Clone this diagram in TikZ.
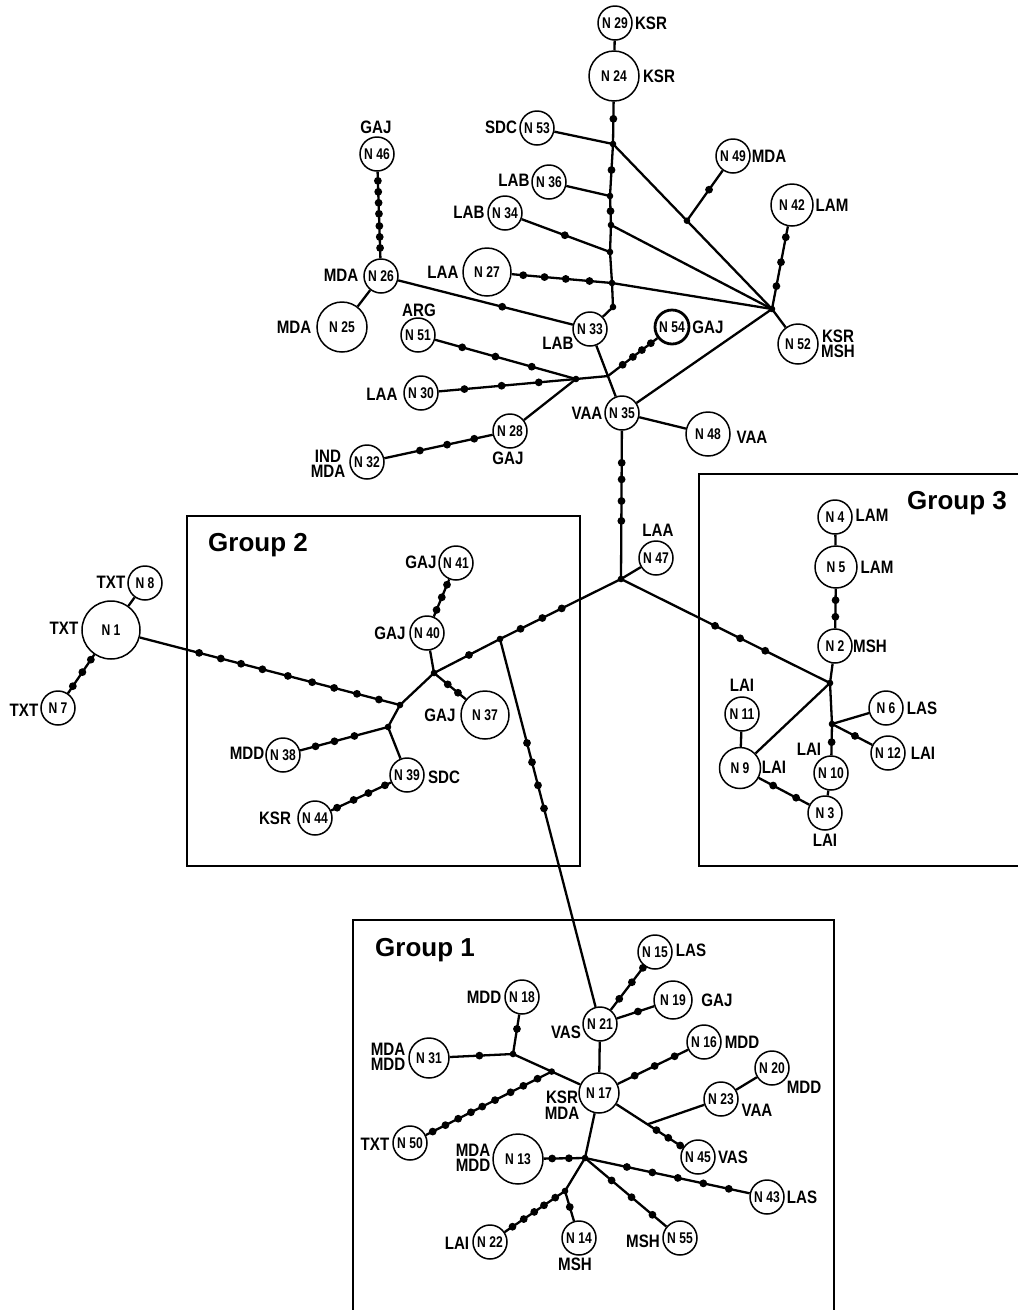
\documentclass[tikz,border=0pt]{standalone}
\usepackage{fontspec}
\setmainfont{Liberation Sans}
\newfontfamily\cf[FakeStretch=0.84]{Liberation Sans}
\newfontfamily\nf[FakeStretch=0.78]{Liberation Sans}
\usetikzlibrary{calc}
\newcommand\mdot[3]{\foreach \mypos in {#3}{\fill ($(#1)!\mypos!(#2)$) circle[radius=3.9pt];}}
\newcommand\jdot[1]{\fill (#1) circle[radius=3.3pt];}
\begin{document}
\begin{tikzpicture}[x=1pt,y=-1pt,
  hap/.style={circle,draw,line width=1.5pt,fill=white,inner sep=0pt,minimum size=34pt,
    font=\nf\bfseries\fontsize{15.5}{15.5}\selectfont},
  lab/.style={inner sep=0pt,align=center,font=\cf\bfseries\fontsize{18}{15.5}\selectfont},
  title/.style={inner sep=0pt,font=\bfseries\fontsize{26}{26}\selectfont},
  con/.style={line width=2.3pt},
  box/.style={line width=1.9pt}]
\useasboundingbox (0,0) rectangle (1018,1310);

% group boxes
\draw[box] (187,516) rectangle (580,866);
\draw[box] (1018,474) -- (699,474) -- (699,866) -- (1018,866);
\draw[box] (353,1310) -- (353,920) -- (834,920) -- (834,1310);
\node[title] (g2) at (258,545) {Group 2};
\node[title] (g3) at (957,503) {Group 3};
\node[title] (g1) at (425,950) {Group 1};

% haplotype nodes
\node[hap] (n29) at (615,23) {N 29};
\node[hap,minimum size=50pt] (n24) at (614,76) {N 24};
\node[hap] (n53) at (537,128) {N 53};
\node[hap] (n46) at (377,154) {N 46};
\node[hap] (n36) at (549,182) {N 36};
\node[hap] (n34) at (505,213) {N 34};
\node[hap] (n49) at (733,156) {N 49};
\node[hap,minimum size=42pt] (n42) at (792,205) {N 42};
\node[hap] (n26) at (381,276) {N 26};
\node[hap,minimum size=48pt] (n27) at (487,272) {N 27};
\node[hap,minimum size=50pt] (n25) at (342,327) {N 25};
\node[hap] (n51) at (418,335) {N 51};
\node[hap] (n33) at (590,329) {N 33};
\node[hap,line width=2.8pt] (n54) at (672,327) {N 54};
\node[hap,minimum size=40pt] (n52) at (798,344) {N 52};
\node[hap] (n30) at (421,393) {N 30};
\node[hap] (n35) at (622,413) {N 35};
\node[hap,minimum size=44pt] (n48) at (708,434) {N 48};
\node[hap] (n28) at (510,431) {N 28};
\node[hap] (n32) at (367,462) {N 32};
\node[hap] (n47) at (656,558) {N 47};
\node[hap] (n8) at (145,583) {N 8};
\node[hap,minimum size=58pt] (n1) at (111,630) {N 1};
\node[hap] (n7) at (58,708) {N 7};
\node[hap] (n41) at (456,563) {N 41};
\node[hap] (n40) at (427,633) {N 40};
\node[hap,minimum size=48pt] (n37) at (485,715) {N 37};
\node[hap] (n38) at (283,755) {N 38};
\node[hap] (n39) at (407,775) {N 39};
\node[hap] (n44) at (315,818) {N 44};
\node[hap] (n4) at (835,517) {N 4};
\node[hap,minimum size=42pt] (n5) at (836,567) {N 5};
\node[hap] (n2) at (835,646) {N 2};
\node[hap] (n11) at (742,714) {N 11};
\node[hap,minimum size=41pt] (n9) at (740,768) {N 9};
\node[hap] (n6) at (886,708) {N 6};
\node[hap] (n12) at (888,753) {N 12};
\node[hap] (n10) at (831,773) {N 10};
\node[hap] (n3) at (825,813) {N 3};
\node[hap] (n15) at (655,952) {N 15};
\node[hap] (n21) at (600,1024) {N 21};
\node[hap,minimum size=38pt] (n19) at (673,1000) {N 19};
\node[hap] (n18) at (522,997) {N 18};
\node[hap,minimum size=40pt] (n31) at (429,1058) {N 31};
\node[hap] (n50) at (410,1143) {N 50};
\node[hap,minimum size=40pt] (n17) at (599,1093) {N 17};
\node[hap] (n16) at (704,1042) {N 16};
\node[hap] (n20) at (772,1068) {N 20};
\node[hap] (n23) at (721,1099) {N 23};
\node[hap] (n45) at (698,1157) {N 45};
\node[hap,minimum size=50pt] (n13) at (518,1159) {N 13};
\node[hap] (n43) at (767,1197) {N 43};
\node[hap] (n55) at (680,1238) {N 55};
\node[hap] (n14) at (579,1238) {N 14};
\node[hap] (n22) at (490,1242) {N 22};

% junctions
\coordinate (jv1) at (613,144);
\coordinate (jv2) at (610,196);
\coordinate (jv3) at (611,225);
\coordinate (jv4) at (610,252);
\coordinate (jv5) at (612,283);
\coordinate (jv6) at (613,307);
\coordinate (jhub) at (772,309);
\coordinate (j49) at ($(jv1)!0.465!(jhub)$);
\coordinate (j8) at (576,379);
\coordinate (j9) at ($(n33)!0.56!(n35)$);
\coordinate (j5) at (621,579);
\coordinate (j4) at (500,639);
\coordinate (j2) at (434,673);
\coordinate (j1) at (400,705);
\coordinate (j3) at (388,727);
\coordinate (j6) at (830,683);
\coordinate (j7) at (832,724);
\coordinate (ja) at (513,1054);
\coordinate (jb50) at ($(ja)!0.45!(n17)$);
\coordinate (j23) at ($(n17)!0.49!(n45)$);
\coordinate (jb) at (585,1158);
\coordinate (jc) at (565,1191);

% connectors
\draw[con] (n29) -- (n24);
\draw[con] (n24) -- (jv1) -- (jv2) -- (jv3) -- (jv4) -- (jv5) -- (jv6) -- (n33);
\draw[con] (n53) -- (jv1);
\draw[con] (n36) -- (jv2);
\draw[con] (n34) -- (jv4);
\draw[con] (n27) -- (jv5);
\draw[con] (jv1) -- (jhub);
\draw[con] (jv3) -- (jhub);
\draw[con] (jv5) -- (jhub);
\draw[con] (j49) -- (n49);
\draw[con] (jhub) -- (n42);
\draw[con] (jhub) -- (n52);
\draw[con] (n35) -- (jhub);
\draw[con] (n46) -- (n26);
\draw[con] (n26) -- (n25);
\draw[con] (n26) -- (n33);
\draw[con] (n51) -- (j8);
\draw[con] (n30) -- (j8);
\draw[con] (n28) -- (j8);
\draw[con] (j8) -- (j9);
\draw[con] (n32) -- (n28);
\draw[con] (j9) -- (n54);
\draw[con] (n33) -- (n35);
\draw[con] (n35) -- (n48);
\draw[con] (n35) -- (j5);
\draw[con] (j5) -- (n47);
\draw[con] (j5) -- (j4);
\draw[con] (j4) -- (j2);
\draw[con] (j2) -- (n40);
\draw[con] (n40) -- (n41);
\draw[con] (j2) -- (n37);
\draw[con] (j2) -- (j1);
\draw[con] (n1) -- (j1);
\draw[con] (n1) -- (n8);
\draw[con] (n1) -- (n7);
\draw[con] (j1) -- (j3);
\draw[con] (j3) -- (n38);
\draw[con] (j3) -- (n39);
\draw[con] (n39) -- (n44);
\draw[con] (j4) -- (n21);
\draw[con] (j5) -- (j6);
\draw[con] (n4) -- (n5);
\draw[con] (n5) -- (n2);
\draw[con] (n2) -- (j6);
\draw[con] (j6) -- (n9);
\draw[con] (n11) -- (n9);
\draw[con] (n9) -- (n3);
\draw[con] (j6) -- (j7);
\draw[con] (j7) -- (n6);
\draw[con] (j7) -- (n12);
\draw[con] (j7) -- (n10);
\draw[con] (n10) -- (n3);
\draw[con] (n21) -- (n15);
\draw[con] (n21) -- (n19);
\draw[con] (n21) -- (n17);
\draw[con] (n18) -- (ja);
\draw[con] (n31) -- (ja);
\draw[con] (ja) -- (n17);
\draw[con] (n50) -- (jb50);
\draw[con] (n17) -- (n16);
\draw[con] (n17) -- (n45);
\draw[con] (j23) -- (n23);
\draw[con] (n23) -- (n20);
\draw[con] (n17) -- (jb) -- (jc);
\draw[con] (jb) -- (n13);
\draw[con] (jb) -- (n43);
\draw[con] (jb) -- (n55);
\draw[con] (jc) -- (n14);
\draw[con] (jc) -- (n22);

% junction dots
\foreach \jj in {jv1,jv2,jv3,jv4,jv5,jv6,jhub,j49,j8,j5,j4,j2,j1,j3,j6,j7,ja,jb50,jb,jc}{\jdot{\jj}}

% mutation dots
\mdot{n24}{jv1}{0.63}
\mdot{jv1}{jv2}{0.5}
\mdot{jv2}{jv3}{0.52}
\mdot{n34}{jv4}{0.57}
\mdot{n27}{jv5}{0.29,0.46,0.63,0.82}
\mdot{j49}{n49}{0.48}
\mdot{jhub}{n42}{0.22,0.45,0.69}
\mdot{n46}{n26}{0.22,0.31,0.40,0.49,0.59,0.68,0.77}
\mdot{n26}{n33}{0.58}
\mdot{n51}{j8}{0.28,0.49,0.72}
\mdot{n30}{j8}{0.28,0.52,0.76}
\mdot{n32}{n28}{0.37,0.56,0.75}
\mdot{j9}{n54}{0.23,0.39,0.53,0.67}
\mdot{n35}{j5}{0.30,0.40,0.53,0.65}
\mdot{j5}{j4}{0.49,0.65,0.83}
\mdot{j4}{j2}{0.47}
\mdot{n40}{n41}{0.33,0.51,0.69}
\mdot{j2}{n37}{0.27,0.47}
\mdot{n1}{j1}{0.305,0.38,0.45,0.524,0.612,0.696,0.772,0.851,0.927}
\mdot{n1}{n7}{0.38,0.54,0.72}
\mdot{j3}{n38}{0.32,0.51,0.69}
\mdot{n39}{n44}{0.24,0.42,0.58,0.76}
\mdot{j4}{n21}{0.27,0.32,0.38,0.44}
\mdot{j5}{j6}{0.45,0.57,0.69}
\mdot{n5}{n2}{0.42,0.63}
\mdot{n9}{n3}{0.39,0.66}
\mdot{j7}{n12}{0.41}
\mdot{j7}{n10}{0.37}
\mdot{n21}{n15}{0.35,0.58,0.78}
\mdot{n21}{n19}{0.52}
\mdot{n18}{ja}{0.56}
\mdot{n31}{ja}{0.6}
\mdot{n50}{jb50}{0.16,0.25,0.34,0.43,0.51,0.60,0.71,0.80,0.90}
\mdot{n17}{n16}{0.34,0.53,0.72}
\mdot{n17}{n45}{0.58,0.70,0.82}
\mdot{jb}{n13}{0.24,0.49}
\mdot{jb}{n43}{0.23,0.37,0.51,0.65,0.79}
\mdot{jb}{n55}{0.28,0.49,0.71}
\mdot{jc}{n14}{0.34}
\mdot{jc}{n22}{0.13,0.28,0.41,0.55,0.70}

% labels
\node[lab] (l29) at (651,23) {KSR};
\node[lab] (l24) at (659,76) {KSR};
\node[lab] (l53) at (501,127) {SDC};
\node[lab] (l46) at (376,127) {GAJ};
\node[lab] (l36) at (514,180) {LAB};
\node[lab] (l34) at (469,212) {LAB};
\node[lab] (l49) at (769,156) {MDA};
\node[lab] (l42) at (832,205) {LAM};
\node[lab] (l26) at (341,275) {MDA};
\node[lab] (l27) at (443,272) {LAA};
\node[lab] (l25) at (294,327) {MDA};
\node[lab] (l51) at (419,310) {ARG};
\node[lab] (l33) at (558,343) {LAB};
\node[lab] (l54) at (708,327) {GAJ};
\node[lab] (l52) at (838,344) {KSR\\MSH};
\node[lab] (l30) at (382,394) {LAA};
\node[lab] (l35) at (587,413) {VAA};
\node[lab] (l48) at (752,437) {VAA};
\node[lab] (l28) at (508,458) {GAJ};
\node[lab] (l32) at (328,464) {IND\\MDA};
\node[lab] (l47) at (658,530) {LAA};
\node[lab] (l8) at (111,582) {TXT};
\node[lab] (l1) at (64,628) {TXT};
\node[lab] (l7) at (24,710) {TXT};
\node[lab] (l41) at (421,562) {GAJ};
\node[lab] (l40) at (390,633) {GAJ};
\node[lab] (l37) at (440,715) {GAJ};
\node[lab] (l38) at (247,753) {MDD};
\node[lab] (l39) at (444,777) {SDC};
\node[lab] (l44) at (275,818) {KSR};
\node[lab] (l4) at (872,515) {LAM};
\node[lab] (l5) at (877,567) {LAM};
\node[lab] (l2) at (870,646) {MSH};
\node[lab] (l11) at (742,685) {LAI};
\node[lab] (l9) at (774,767) {LAI};
\node[lab] (l6) at (922,708) {LAS};
\node[lab] (l12) at (923,753) {LAI};
\node[lab] (l10) at (809,749) {LAI};
\node[lab] (l3) at (825,840) {LAI};
\node[lab] (l15) at (691,950) {LAS};
\node[lab] (l19) at (717,1000) {GAJ};
\node[lab] (l21) at (566,1032) {VAS};
\node[lab] (l18) at (484,997) {MDD};
\node[lab] (l31) at (388,1057) {MDA\\MDD};
\node[lab] (l50) at (375,1144) {TXT};
\node[lab] (l17) at (562,1105) {KSR\\MDA};
\node[lab] (l16) at (742,1042) {MDD};
\node[lab] (l20) at (804,1087) {MDD};
\node[lab] (l23) at (757,1110) {VAA};
\node[lab] (l45) at (733,1157) {VAS};
\node[lab] (l13) at (473,1158) {MDA\\MDD};
\node[lab] (l43) at (802,1197) {LAS};
\node[lab] (l55) at (643,1241) {MSH};
\node[lab] (l14) at (575,1264) {MSH};
\node[lab] (l22) at (457,1243) {LAI};
\end{tikzpicture}
\end{document}
